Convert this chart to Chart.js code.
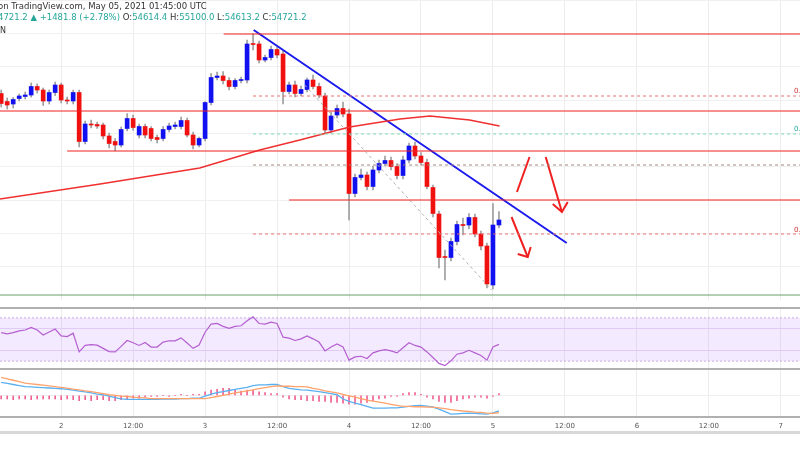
<!DOCTYPE html>
<html>
<head>
<meta charset="utf-8">
<script src="https://cdn.jsdelivr.net/npm/chart.js@4.4.0/dist/chart.umd.min.js"></script>
<style>
  body { margin: 0; background: #fff; font-family: "DejaVu Sans", sans-serif; }
  #wrap { position: relative; width: 800px; height: 450px; overflow: hidden; }
  .cv { position: absolute; left: 0; }
  .sep { position: absolute; left: 0; width: 800px; background: #b0b0b0; }
  .txt { position: absolute; font-size: 8.5px; color: #333; white-space: nowrap; }
  .g { color: #26a69a; }
</style>
</head>
<body>
<div id="wrap">
  <div class="cv" style="top:0;width:800px;height:300px"><canvas id="main"></canvas></div>
  <div class="cv" style="top:309px;width:800px;height:60px"><canvas id="rsi"></canvas></div>
  <div class="cv" style="top:370px;width:800px;height:62px"><canvas id="macd"></canvas></div>
  <div class="sep" style="top:307px;height:1.5px"></div>
  <div class="sep" style="top:368px;height:1.5px"></div>
  <div class="sep" style="top:416px;height:1.5px"></div>
  <div class="sep" style="top:431px;height:3px;background:#d8d8d8"></div>
  <div class="txt" style="left:-2px;top:1px">on TradingView.com, May 05, 2021 01:45:00 UTC</div>
  <div class="txt" style="left:-2px;top:12px"><span class="g">4721.2 ▲ +1481.8 (+2.78%)</span> O:<span class="g">54614.4</span> H:<span class="g">55100.0</span> L:<span class="g">54613.2</span> C:<span class="g">54721.2</span></div>
  <div class="txt" style="left:0;top:26px;font-size:8px">N</div>
  <div class="txt" style="left:794px;top:87px;font-size:7px;color:#c33">0.</div>
  <div class="txt" style="left:794px;top:125px;font-size:7px;color:#2a9">0.</div>
  <div class="txt" style="left:794px;top:226px;font-size:7px;color:#c33">0.</div>
</div>
<script>
// hours since May 1 00:00, one candle per hour
const hours = [];
for (let h = 14; h <= 97; h++) hours.push(h);

const open = [56690,56530,56480,56590,56630,56660,56830,56760,56540,56710,
  56860,56560,56540,56710,55730,56080,56070,56060,55840,55730,
  55660,55990,56190,55860,56030,55990,55810,55790,55970,56030,
  56030,56150,55860,55660,55790,56510,57010,57040,56950,56830,
  56950,56960,57680,57680,57360,57410,57570,57480,56730,56860,
  56690,56770,56960,56830,56640,55960,56260,56390,56280,54690,
  55010,55060,54830,55160,55290,55350,55230,55050,55360,55640,
  55440,55310,54810,54280,53430,53410,53730,54070,54060,54210,
  53880,53640,52860,54060];
const close = [56490,56460,56570,56640,56660,56830,56760,56540,56710,56860,
  56560,56540,56710,55730,56080,56060,56040,55840,55690,55660,
  55970,56190,56010,56030,55860,55790,55770,55970,56040,56060,
  56150,55860,55660,55790,56510,57010,57040,56950,56830,56950,
  56960,57680,57670,57360,57410,57570,57460,56730,56860,56690,
  56770,56960,56830,56660,55960,56240,56390,56280,54690,55010,
  55060,54830,55160,55290,55350,55230,55050,55360,55640,55440,
  55310,54830,54290,53410,53410,53730,54070,54050,54210,53880,
  53640,52880,54060,54160];
const high = [56760,56600,56610,56680,56720,56900,56880,56800,56760,56920,
  56900,56620,56760,56760,56140,56160,56120,56100,55900,55790,
  56020,56290,56260,56080,56080,56030,55860,56030,56100,56120,
  56220,56200,55920,55820,56530,57090,57120,57130,57010,56990,
  57020,57760,57890,57740,57460,57640,57620,57540,56920,56940,
  56840,57000,57060,56900,56700,56320,56460,56520,56380,55080,
  55180,55120,55240,55360,55440,55420,55290,55440,55700,55720,
  55510,55380,54860,54340,53560,53800,54140,54200,54290,54280,
  53940,53700,54490,54330];
const low = [56420,56380,56400,56540,56580,56620,56700,56450,56480,56650,
  56500,56480,56480,55620,55680,56000,55990,55780,55600,55540,
  55620,55940,55950,55800,55800,55740,55700,55740,55920,55980,
  55980,55820,55580,55620,55740,56460,56960,56880,56760,56780,
  56900,56900,57560,57300,57320,57360,57400,56480,56680,56620,
  56640,56720,56780,56600,55900,55900,56200,56220,54160,54620,
  54960,54760,54760,55100,55240,55160,54980,54980,55300,55380,
  55260,54780,54220,53200,52960,53340,53660,53860,53980,53820,
  53560,52800,52780,54000];

const rsi = [56.4,55.2,56.4,57.9,58.8,61.2,58.8,54.2,57.0,59.7,
  53.3,52.7,55.8,38.5,44.5,45.2,44.8,41.8,38.8,38.5,
  43.6,49.1,47.0,44.5,47.3,43.0,43.0,47.6,48.8,48.8,
  51.5,46.7,41.8,44.8,56.7,64.2,64.8,62.1,60.3,62.1,
  62.7,67.3,70.9,64.8,64.2,66.1,64.8,52.1,51.2,49.1,
  50.6,53.3,50.6,47.6,39.4,43.0,45.8,43.0,30.9,33.9,
  34.5,32.4,37.6,39.4,40.6,39.4,37.6,42.4,47.0,44.5,
  43.0,38.5,33.3,27.9,25.8,30.3,36.4,37.6,40.0,37.6,
  35.2,30.9,43.0,45.5];

const macdLine = [370,340,310,280,250,240,230,220,210,200,
  190,170,150,120,100,70,40,20,-20,-60,
  -100,-110,-110,-110,-110,-110,-110,-100,-100,-100,
  -90,-90,-80,-80,-20,40,80,110,140,170,
  200,230,280,300,300,310,310,250,200,180,
  160,150,130,110,80,50,20,-100,-170,-220,
  -260,-310,-360,-360,-360,-350,-350,-330,-310,-290,
  -280,-300,-330,-390,-460,-530,-520,-510,-500,-510,
  -520,-530,-490,-440];
const signalLine = [510,470,430,390,350,330,310,290,270,250,
  230,210,180,160,130,110,80,50,20,0,
  -20,-30,-50,-60,-70,-90,-90,-90,-90,-90,
  -90,-90,-90,-90,-90,-60,-30,0,40,70,
  100,130,160,190,220,250,270,260,260,250,
  250,240,200,170,130,100,70,30,-10,-50,
  -90,-130,-160,-190,-220,-250,-280,-310,-310,-320,
  -320,-330,-330,-350,-370,-400,-420,-440,-450,-470,
  -480,-500,-510,-490];
const histo = [-100,-100,-120,-100,-100,-120,-100,-100,-100,-100,
  -120,-100,-120,-150,-120,-150,-120,-120,-150,-150,
  -120,-100,-80,-80,-50,-30,-30,0,-30,0,
  30,0,30,30,100,150,170,200,200,150,
  120,150,150,100,80,50,50,-50,-100,-120,
  -120,-150,-150,-170,-170,-200,-200,-220,-250,-250,
  -220,-200,-150,-100,-80,-30,-30,50,80,80,
  30,-50,-100,-170,-200,-200,-150,-100,-80,-50,
  -50,-80,-30,50];

// drawn levels: [x0, x1, price]
const solidLevels = [[51.1, 147.2, 57880], [13.8, 147.2, 56340], [25, 147.2, 55540], [62, 147.2, 54560]];
const dashLevels = [[56, 147.2, 56640, '#e57373'], [56, 147.2, 55880, '#7fdbb6'], [56, 147.2, 55260, '#a1887f'], [56, 147.2, 53880, '#e57373']];
const maX = [13.8, 30.5, 47.1, 57.1, 63.8, 72.1, 80.5, 85.5, 92.1, 97.1];
const maY = [54580, 54880, 55200, 55560, 55760, 56020, 56180, 56240, 56160, 56040];
const trend = [[56.1, 57960], [108.3, 53700]];
const channel = [[64.6, 56860], [95.8, 52760]];
const arrows = [
  [[100, 54720], [102.1, 55420]],
  [[104.8, 55420], [107.5, 54320]],
  [[105.97, 54480], [107.5, 54320], [108.47, 54520]],
  [[99.1, 54220], [101.8, 53420]],
  [[100.13, 53480], [101.8, 53420], [102.3, 53620]]
];

const tickLabels = {24:'2',36:'12:00',48:'3',60:'12:00',72:'4',84:'12:00',96:'5',108:'12:00',120:'6',132:'12:00',144:'7'};
const X_MIN = 13.8, X_MAX = 147.2;

const RED = '#f01010', BLUE = '#1010f0';
const candleColor = open.map((o, i) => close[i] >= o ? BLUE : RED);

function xScale(showLabels) {
  return {
    type: 'linear', min: X_MIN, max: X_MAX, offset: false,
    afterBuildTicks: ax => { ax.ticks = Object.keys(tickLabels).map(v => ({ value: +v })); },
    grid: { color: '#ececec', drawTicks: false, offset: false },
    border: { display: false },
    ticks: showLabels
      ? { display: true, color: '#555', font: { size: 7, family: 'DejaVu Sans' }, padding: 5, maxRotation: 0, autoSkip: false, callback: v => tickLabels[v] }
      : { display: false },
    afterFit: showLabels ? (ax => { ax.height = 15; }) : undefined
  };
}
function line(pts, color, width, dash) {
  return { type: 'line', data: pts.map(p => ({ x: p[0], y: p[1] })), borderColor: color, borderWidth: width,
    borderDash: dash || [], pointRadius: 0, fill: false, tension: 0, order: 0 };
}
const baseOpts = {
  responsive: true, maintainAspectRatio: false, animation: false,
  layout: { padding: 0 },
  plugins: { legend: { display: false }, tooltip: { enabled: false } }
};

const mainSets = [
  { type: 'bar', data: hours.map((h, i) => ({ x: h, y: [low[i], high[i]] })), backgroundColor: '#9e9e9e',
    barThickness: 1, grouped: false, order: 3 },
  { type: 'bar', data: hours.map((h, i) => ({ x: h, y: [open[i], close[i]] })), backgroundColor: candleColor,
    barThickness: 4, grouped: false, order: 2, minBarLength: 1 }
];
solidLevels.forEach(l => mainSets.push(line([[l[0], l[2]], [l[1], l[2]]], '#f02020', 1.2)));
dashLevels.forEach(l => mainSets.push(line([[l[0], l[2]], [l[1], l[2]]], l[3], 1, [3, 3])));
mainSets.push(line([[X_MIN, 52660], [X_MAX, 52660]], '#66a066', 1));
mainSets.push(line(maX.map((x, i) => [x, maY[i]]), '#f03030', 1.5));
mainSets.push(line(channel, '#b0b0b0', 1, [3, 3]));
mainSets.push(line(trend, '#1a1aee', 2));
arrows.forEach(a => mainSets.push(line(a, '#f02020', 2)));

new Chart(document.getElementById('main'), {
  type: 'bar',
  data: { datasets: mainSets },
  options: { ...baseOpts, scales: {
    x: xScale(false),
    y: { min: 52560, max: 58560, grid: { color: '#f0f0f0', drawTicks: false }, border: { display: false },
      ticks: { display: false, stepSize: 700 } }
  } }
});

const rsiBand = {
  id: 'rsiBand',
  beforeDatasetsDraw(chart) {
    const { ctx, chartArea: a, scales: { y } } = chart;
    const t = y.getPixelForValue(70), b = y.getPixelForValue(30);
    ctx.save();
    ctx.fillStyle = 'rgba(200,150,255,0.2)';
    ctx.fillRect(a.left, t, a.width, b - t);
    ctx.strokeStyle = '#c9a9e6'; ctx.setLineDash([2, 2]); ctx.lineWidth = 1;
    [t, b].forEach(p => { ctx.beginPath(); ctx.moveTo(a.left, p); ctx.lineTo(a.right, p); ctx.stroke(); });
    ctx.restore();
  }
};
new Chart(document.getElementById('rsi'), {
  type: 'line',
  data: { datasets: [{ data: hours.map((h, i) => ({ x: h, y: rsi[i] })), borderColor: '#b45fd0', borderWidth: 1.2, pointRadius: 0, tension: 0 }] },
  options: { ...baseOpts, scales: {
    x: xScale(false),
    y: { min: 22.7, max: 78.2, grid: { color: '#e6d9f2', drawTicks: false }, border: { display: false },
      afterBuildTicks: ax => { ax.ticks = [40, 60].map(v => ({ value: v })); }, ticks: { display: false } }
  } },
  plugins: [rsiBand]
});

new Chart(document.getElementById('macd'), {
  type: 'bar',
  data: { datasets: [
    { type: 'line', data: hours.map((h, i) => ({ x: h, y: macdLine[i] })), borderColor: '#5ab0f0', borderWidth: 1.3, pointRadius: 0, order: 1 },
    { type: 'line', data: hours.map((h, i) => ({ x: h, y: signalLine[i] })), borderColor: '#ffa26b', borderWidth: 1.3, pointRadius: 0, order: 0 },
    { type: 'bar', data: hours.map((h, i) => ({ x: h, y: histo[i] })), backgroundColor: '#f06292', barThickness: 1, order: 2 }
  ] },
  options: { ...baseOpts, scales: {
    x: xScale(true),
    y: { min: -610, max: 720, grid: { color: '#eeeeee', drawTicks: false }, border: { display: false },
      afterBuildTicks: ax => { ax.ticks = [{ value: 0 }]; }, ticks: { display: false } }
  } }
});
</script>
</body>
</html>
